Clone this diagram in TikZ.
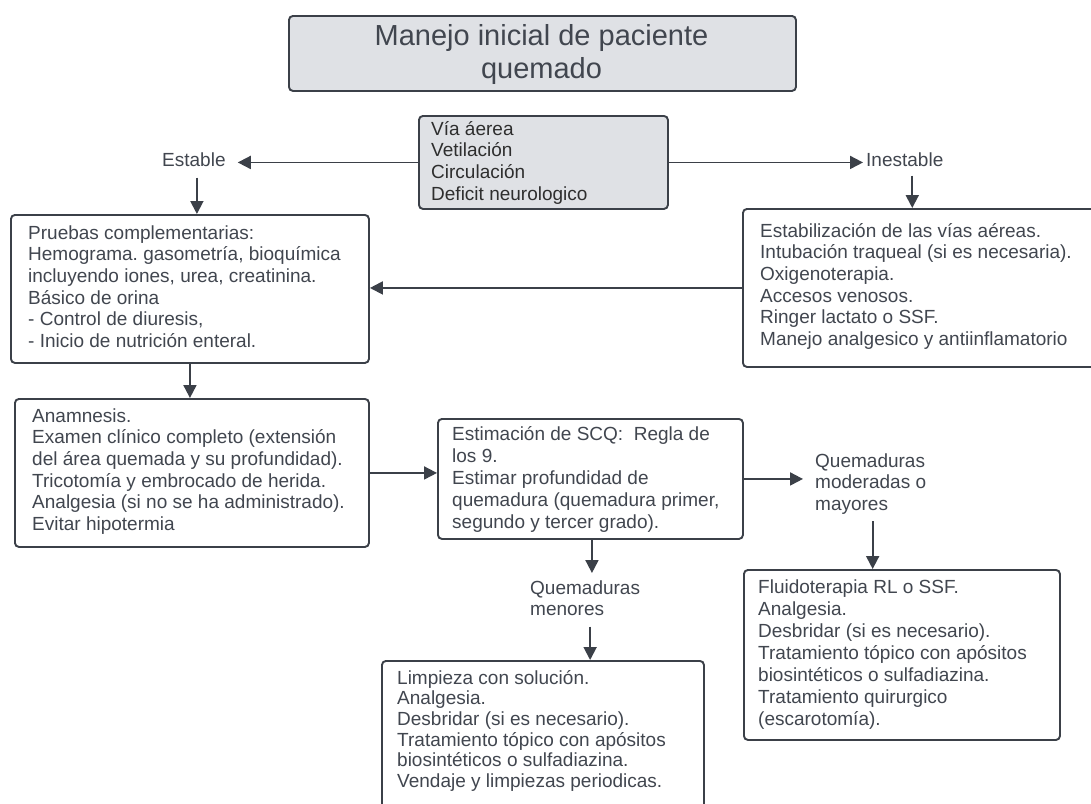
\documentclass[tikz,border=0pt]{standalone}
\usepackage{fontspec}
\setmainfont{Liberation Sans}
\usetikzlibrary{arrows.meta,calc}
\definecolor{ln}{HTML}{3B4048}
\definecolor{tx}{HTML}{41464F}
\definecolor{gf}{HTML}{DFE1E5}
\newcommand{\fl}{\rule{0pt}{16pt}}
\newcommand{\flt}{\rule{0pt}{26pt}}
\frenchspacing
\begin{document}
\begin{tikzpicture}[x=1pt,y=-1pt,
 box/.style={draw=ln, line width=1.9pt, rounded corners=4pt, anchor=north west, inner sep=0pt},
 txt/.style={anchor=north west, inner sep=0pt, align=left, text=tx, font=\fontsize{19}{21.6}\selectfont},
 arr/.style={draw=ln, line width=1.9pt, -{Triangle[length=13pt,width=13pt]}}]
\useasboundingbox (0,0) rectangle (1091,803);
\clip (0,0) rectangle (1091,803);
\fill[white] (0,0) rectangle (1091,803);

% title
\node[box, fill=gf, minimum width=507pt, minimum height=75pt] (tb) at (288,15) {};
\node[anchor=north, inner sep=0pt, align=center, text=tx, font=\fontsize{29}{33}\selectfont] (tt) at (541.5,19) {\flt Manejo inicial de paciente\\quemado};

% central
\node[box, fill=gf, minimum width=249pt, minimum height=93pt] (vital) at (418,115) {};
\node[txt, text=black!82] (vitalt) at (431,119) {\fl Vía áerea\\Vetilación\\Circulación\\Deficit neurologico};

\node[txt] (est) at (162,150) {\fl Estable};
\node[txt] (inest) at (866,150) {\fl Inestable};

% pruebas
\node[box, minimum width=358pt, minimum height=148pt] (pr) at (10,214) {};
\node[txt] (prt) at (28,223) {\fl Pruebas complementarias:\\Hemograma. gasometría, bioquímica\\incluyendo iones, urea, creatinina.\\Básico de orina\\- Control de diuresis,\\- Inicio de nutrición enteral.};

% estabilizacion
\node[box, minimum width=360pt, minimum height=158pt] (es) at (742,208) {};
\node[txt] (est2) at (760,221) {\fl Estabilización de las vías aéreas.\\Intubación traqueal (si es necesaria).\\Oxigenoterapia.\\Accesos venosos.\\Ringer lactato o SSF.\\Manejo analgesico y antiinflamatorio};

% anamnesis
\node[box, minimum width=354pt, minimum height=148pt] (an) at (14,398) {};
\node[txt] (ant) at (32,406) {\fl Anamnesis.\\Examen clínico completo (extensión\\del área quemada y su profundidad).\\Tricotomía y embrocado de herida.\\Analgesia (si no se ha administrado).\\Evitar hipotermia};

% SCQ
\node[box, minimum width=305pt, minimum height=120pt] (scq) at (437,418) {};
\node[txt, font=\fontsize{19}{22}\selectfont] (scqt) at (452,424) {\fl Estimación de SCQ:\ \ Regla de\\los 9.\\Estimar profundidad de\\quemadura (quemadura primer,\\segundo y tercer grado).};

% labels
\node[txt, font=\fontsize{19}{21.5}\selectfont] (qmod) at (815,451) {\fl Quemaduras\\moderadas o\\mayores};
\node[txt, font=\fontsize{19}{21}\selectfont] (qmen) at (530,578) {\fl Quemaduras\\menores};

% limpieza
\node[box, minimum width=322pt, minimum height=160pt] (lm) at (381,660) {};
\node[txt, font=\fontsize{19}{20.6}\selectfont] (lmt) at (397,668) {\fl Limpieza con solución.\\Analgesia.\\Desbridar (si es necesario).\\Tratamiento tópico con apósitos\\biosintéticos o sulfadiazina.\\Vendaje y limpiezas periodicas.};

% fluido
\node[box, minimum width=316pt, minimum height=170pt] (fl) at (743,569) {};
\node[txt, font=\fontsize{19}{22}\selectfont] (flt) at (758,577) {\fl Fluidoterapia RL o SSF.\\Analgesia.\\Desbridar (si es necesario).\\Tratamiento tópico con apósitos\\biosintéticos o sulfadiazina.\\Tratamiento quirurgico\\(escarotomía).};

% connectors
\draw[arr, shorten >=12pt] (vital.west) -- (vital.west -| est.east);
\draw[arr, shorten >=3pt] (vital.east) -- (vital.east -| inest.west);
\draw[arr] ([xshift=3pt,yshift=-11pt]est.south) -- ([xshift=3pt]est.south |- pr.north);
\draw[arr] ([xshift=7.5pt,yshift=-9pt]inest.south) -- ([xshift=7.5pt]inest.south |- es.north);
\draw[arr] (es.west) -- (es.west -| pr.east);
\draw[arr] (pr.south) -- (pr.south |- an.north);
\draw[arr] (an.east) -- (an.east -| scq.west);
\draw[arr, shorten >=12pt] (scq.east) -- (scq.east -| qmod.west);
\draw[arr] ([xshift=2pt,yshift=-7pt]qmod.south) -- ([xshift=2pt]qmod.south |- fl.north);
\draw[arr, shorten >=5pt] ([xshift=1.5pt]scq.south) -- ([xshift=1.5pt]scq.south |- qmen.north);
\draw[arr] ([xshift=5pt,yshift=-11pt]qmen.south) -- ([xshift=5pt]qmen.south |- lm.north);
\end{tikzpicture}
\end{document}
